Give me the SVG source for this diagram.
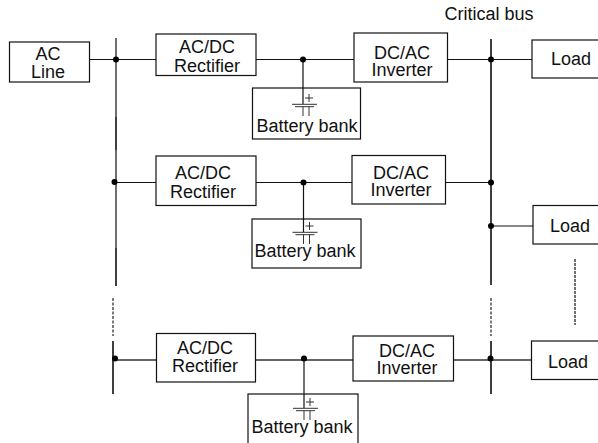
<svg xmlns="http://www.w3.org/2000/svg" width="598" height="443" viewBox="0 0 598 443">
<style>
rect{fill:#fff;stroke:#111;stroke-width:1.2}
text{font-family:"Liberation Sans",Arial,sans-serif;font-size:18px;fill:#111;text-anchor:middle}
.w{stroke:#111;stroke-width:1.2;fill:none}
.t{stroke:#333;stroke-width:1.5;fill:none}
.b{stroke:#000;stroke-width:1.5;fill:none}
.g{stroke:#555;stroke-width:1.7;fill:none}
.d{stroke:#222;stroke-width:1.2;fill:none;stroke-dasharray:3 1.5}
.e{stroke:#555;stroke-width:1.7;fill:none;stroke-dasharray:3 1}
.s{stroke:#333;stroke-width:1;fill:none}
circle{fill:#000}
</style>
<defs>
<g id="cap">
<path class="s" d="M-11 0.3H14M-8 2.7H11M6 -10V-2M2 -6H10M0 2.7V12M6 2.7V12"/>
</g>
</defs>
<g id="connectors">
<path class="w" d="M89.5 59.5H156M256 59.5H354M447.5 59.5H532M303 59.5V104"/>
<path class="w" d="M115 182.5H156M256 182.5H352M445.5 182.5H491M303.5 182.5V223M491 226H533"/>
<path class="t" d="M115 360H156.5M255.5 360H353M453.5 360H531.5"/>
<path class="w" d="M304 360V398"/>
<path class="g" d="M116 38V117M116 150V248"/>
<path class="b" d="M116 117V150M116 248V286M491 39V285"/>
<path class="b" d="M113 341V394M491 341V394"/>
<path class="d" d="M113 298V336M491 298V336"/>
<path class="e" d="M575 259V325"/>
<circle cx="116" cy="59.5" r="3"/><circle cx="303" cy="59.5" r="3"/><circle cx="491" cy="59.5" r="3"/>
<circle cx="114.5" cy="182" r="3"/><circle cx="303.5" cy="182.5" r="3"/><circle cx="491" cy="182.5" r="3"/><circle cx="491" cy="226" r="3"/>
<circle cx="115" cy="358.5" r="3"/><circle cx="304" cy="358.5" r="3"/><circle cx="490.5" cy="358.5" r="3"/>
</g>
<g id="ac-line"><rect x="9.5" y="42" width="80" height="40"/><text><tspan x="48" y="60">AC</tspan><tspan x="48" y="78">Line</tspan></text></g>
<g id="rectifier-1"><rect x="156" y="34" width="100" height="41.5"/><text><tspan x="207" y="53">AC/DC</tspan><tspan x="207" y="72">Rectifier</tspan></text></g>
<g id="inverter-1"><rect x="354" y="33" width="93.5" height="49"/><text><tspan x="402" y="59">DC/AC</tspan><tspan x="402" y="75.5">Inverter</tspan></text></g>
<g id="battery-1"><rect x="252.5" y="88" width="108" height="51"/><path class="w" d="M303 88V104"/><use href="#cap" x="303" y="104"/><text x="307" y="131.5">Battery bank</text></g>
<g id="load-1"><rect x="532" y="40" width="68" height="38"/><text x="571" y="65">Load</text></g>
<g id="rectifier-2"><rect x="156" y="156" width="100" height="49.5"/><text><tspan x="203" y="179">AC/DC</tspan><tspan x="203" y="198">Rectifier</tspan></text></g>
<g id="inverter-2"><rect x="352" y="155.5" width="93.5" height="48.5"/><text><tspan x="401" y="179">DC/AC</tspan><tspan x="401" y="196">Inverter</tspan></text></g>
<g id="battery-2"><rect x="252" y="219" width="109" height="49"/><path class="w" d="M303.5 219V232"/><use href="#cap" x="303.5" y="232"/><text x="305" y="256.5">Battery bank</text></g>
<g id="load-2"><rect x="533" y="205.5" width="67" height="38.5"/><text x="570" y="232">Load</text></g>
<g id="rectifier-3"><rect x="156.5" y="333.5" width="99" height="48.5"/><text><tspan x="205" y="354">AC/DC</tspan><tspan x="205" y="372">Rectifier</tspan></text></g>
<g id="inverter-3"><rect x="353" y="336" width="100.5" height="45"/><text><tspan x="407" y="357">DC/AC</tspan><tspan x="407" y="374">Inverter</tspan></text></g>
<g id="battery-3"><rect x="248" y="394" width="110" height="50"/><path class="w" d="M304 394V408"/><use href="#cap" x="304" y="408"/><text x="302" y="433">Battery bank</text></g>
<g id="load-3"><rect x="531.5" y="341" width="68" height="38.5"/><text x="568" y="367.5">Load</text></g>
<text x="489" y="20">Critical bus</text>
</svg>
